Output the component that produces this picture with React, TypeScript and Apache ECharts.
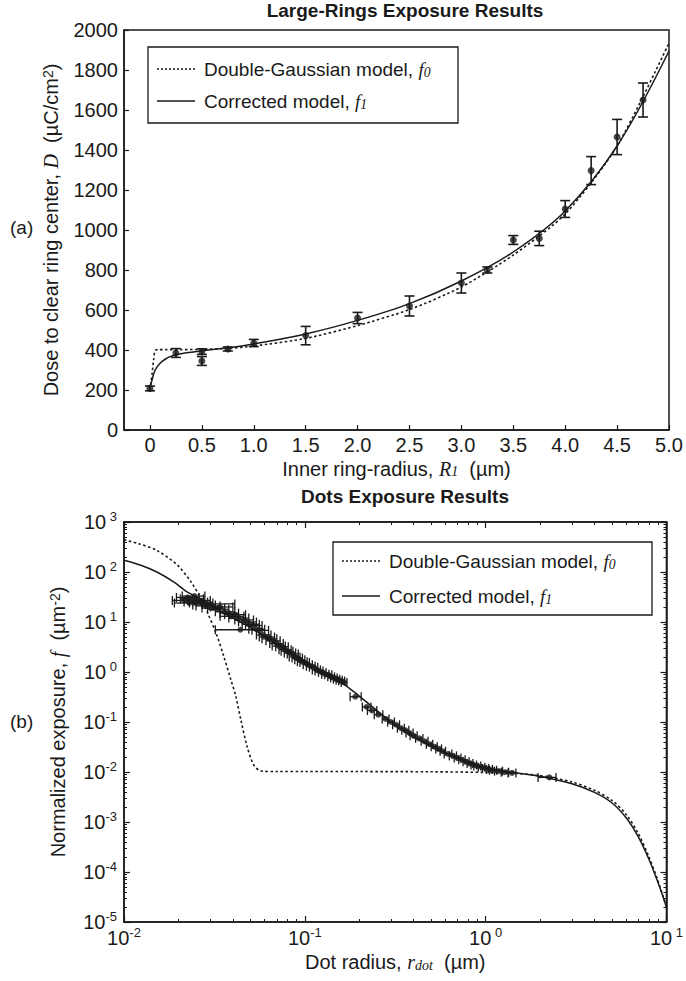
import React, { useEffect, useRef } from "react";
import * as echarts from "echarts";

// ---------- (a) Large-Rings exposure ----------
const ringRadius = [0, 0.25, 0.5, 0.5, 0.75, 1.0, 1.5, 2.0, 2.5, 3.0, 3.25, 3.5, 3.75, 4.0, 4.25, 4.5, 4.75];
const ringDose = [208, 385, 392, 345, 405, 435, 472, 560, 620, 735, 800, 950, 958, 1105, 1297, 1465, 1650];
const ringDoseErr = [12, 22, 14, 22, 10, 18, 46, 28, 50, 50, 15, 22, 36, 42, 70, 88, 85];

const f0RingX = [0, 0.02, 0.035, 0.05, 0.08, 0.15, 0.3, 0.5, 0.75, 1.0, 1.5, 2.0, 2.5, 3.0, 3.5, 4.0, 4.5, 5.0];
const f0RingY = [200, 280, 350, 398, 402, 402, 402, 403, 408, 420, 458, 522, 602, 715, 875, 1080, 1420, 1935];

const f1RingX = [0, 0.02, 0.05, 0.1, 0.15, 0.2, 0.25, 0.35, 0.5, 0.75, 1.0, 1.5, 2.0, 2.5, 3.0, 3.5, 4.0, 4.5, 5.0];
const f1RingY = [210, 250, 300, 335, 355, 368, 376, 386, 396, 411, 430, 480, 548, 632, 745, 890, 1095, 1420, 1895];

const ringXTicks = [0, 0.5, 1.0, 1.5, 2.0, 2.5, 3.0, 3.5, 4.0, 4.5, 5.0];
const ringXTickLabels = ["0", "0.5", "1.0", "1.5", "2.0", "2.5", "3.0", "3.5", "4.0", "4.5", "5.0"];

// ---------- (b) Dots exposure ----------
const dotRadius = [
  0.0215, 0.0225, 0.023, 0.024, 0.0245, 0.025, 0.026, 0.027, 0.028, 0.029, 0.030, 0.031, 0.033, 0.034,
  0.036, 0.038, 0.039, 0.041, 0.043, 0.044, 0.046, 0.048, 0.05, 0.052, 0.054, 0.057, 0.059, 0.062,
  0.064, 0.067, 0.07, 0.072, 0.075, 0.078, 0.08, 0.083, 0.086, 0.088, 0.091, 0.094, 0.097, 0.10,
  0.104, 0.108, 0.112, 0.116, 0.12, 0.125, 0.13, 0.135, 0.14, 0.145, 0.15, 0.155, 0.16, 0.165,
  0.19, 0.22, 0.235, 0.255,
  0.28, 0.3, 0.32, 0.34, 0.36, 0.38, 0.4, 0.43, 0.46, 0.49, 0.52, 0.55, 0.58, 0.62, 0.66, 0.7,
  0.74, 0.78, 0.82, 0.86, 0.9, 0.95, 1.0, 1.05, 1.1, 1.18, 1.28, 1.4,
  2.25,
];
const dotExposure = [
  27, 31, 24, 29, 33, 25, 27, 24, 22, 21, 23, 19, 18, 20,
  16, 15, 13, 14, 12, 7, 11, 10, 9, 8.5, 7.2, 6.8, 5.5, 5.0,
  4.6, 4.2, 3.7, 3.3, 3.2, 2.8, 2.6, 2.4, 2.3, 2.0, 1.9, 1.75, 1.6, 1.55,
  1.4, 1.3, 1.25, 1.1, 1.05, 0.98, 0.9, 0.88, 0.8, 0.76, 0.72, 0.68, 0.66, 0.62,
  0.32, 0.2, 0.17, 0.14,
  0.115, 0.1, 0.088, 0.075, 0.068, 0.06, 0.053, 0.047, 0.041, 0.036, 0.032, 0.029, 0.026, 0.023, 0.021, 0.019,
  0.0175, 0.016, 0.0148, 0.0138, 0.0132, 0.0125, 0.0118, 0.0113, 0.0108, 0.0104, 0.0099, 0.0096,
  0.0078,
];
const dotRadiusLow = [
  0.0185, 0.0195, 0.019, 0.0205, 0.021, 0.0215, 0.0225, 0.023, 0.024, 0.025, 0.027, 0.027, 0.029, 0.030,
  0.032, 0.034, 0.034, 0.036, 0.038, 0.032, 0.041, 0.043, 0.045, 0.047, 0.049, 0.051, 0.054, 0.056,
  0.058, 0.061, 0.064, 0.066, 0.069, 0.072, 0.074, 0.077, 0.080, 0.082, 0.085, 0.088, 0.091, 0.094,
  0.098, 0.102, 0.106, 0.110, 0.114, 0.119, 0.124, 0.129, 0.134, 0.139, 0.144, 0.149, 0.154, 0.159,
  0.178, 0.208, 0.222, 0.242,
  0.268, 0.287, 0.306, 0.325, 0.344, 0.363, 0.382, 0.41, 0.44, 0.47, 0.5, 0.53, 0.56, 0.59, 0.63, 0.67,
  0.71, 0.75, 0.79, 0.83, 0.86, 0.91, 0.96, 1.01, 1.05, 1.12, 1.22, 1.33,
  1.95,
];
const dotRadiusHigh = [
  0.025, 0.026, 0.027, 0.0275, 0.028, 0.029, 0.030, 0.031, 0.032, 0.034, 0.041, 0.036, 0.038, 0.040,
  0.041, 0.043, 0.046, 0.047, 0.049, 0.056, 0.052, 0.054, 0.056, 0.058, 0.060, 0.063, 0.065, 0.068,
  0.070, 0.073, 0.076, 0.078, 0.081, 0.084, 0.086, 0.089, 0.092, 0.094, 0.097, 0.100, 0.103, 0.106,
  0.110, 0.114, 0.118, 0.122, 0.126, 0.131, 0.136, 0.141, 0.146, 0.151, 0.156, 0.161, 0.166, 0.171,
  0.205, 0.232, 0.25, 0.27,
  0.292, 0.313, 0.334, 0.355, 0.376, 0.397, 0.418, 0.45, 0.48, 0.51, 0.54, 0.57, 0.6, 0.65, 0.69, 0.73,
  0.77, 0.81, 0.85, 0.89, 0.94, 0.99, 1.04, 1.09, 1.15, 1.24, 1.34, 1.47,
  2.45,
];

const f0DotX = [0.01, 0.012, 0.0152, 0.0197, 0.0235, 0.0267, 0.0288, 0.0323, 0.0357, 0.039, 0.0415, 0.0443, 0.048, 0.0524, 0.0573, 0.07, 0.1, 0.2, 0.5, 1.0, 1.5, 2.0, 3.0, 4.0, 5.0, 6.0, 7.0, 8.0, 9.0, 10.0];
const f0DotY = [440, 370, 270, 138, 63, 29, 16, 6.0, 2.0, 0.7, 0.33, 0.11, 0.032, 0.0135, 0.0105, 0.0102, 0.0102, 0.0102, 0.0101, 0.0098, 0.0093, 0.0085, 0.0063, 0.0043, 0.0027, 0.0014, 0.00058, 0.0002, 0.000065, 0.00002];

const f1DotX = [0.01, 0.0125, 0.0152, 0.0189, 0.0223, 0.026, 0.03, 0.04, 0.05, 0.07, 0.1, 0.15, 0.2, 0.3, 0.4, 0.6, 0.8, 1.0, 1.5, 2.0, 3.0, 4.0, 5.0, 6.0, 7.0, 8.0, 9.0, 10.0];
const f1DotY = [172, 135, 100, 63, 40, 30, 22, 12, 7.8, 3.6, 1.6, 0.72, 0.33, 0.1, 0.05, 0.024, 0.016, 0.012, 0.0096, 0.0082, 0.0058, 0.0039, 0.0024, 0.0012, 0.0005, 0.00018, 0.00006, 0.00002];

const legendNames = ["Double-Gaussian model, ", "Corrected model, "];

const INK = "#1a1a1a";
const SANS = "Liberation Sans, Arial, Helvetica, sans-serif";
const SERIF = "Liberation Serif, Times New Roman, serif";
const TICK_FS = 20;
const NAME_FS = 20;

function pow10Label(v: number) {
  const e = Math.round(Math.log10(v));
  return `{b|10}{s|${e >= 0 ? " " + e : e}}`;
}

const powRich = {
  b: { fontSize: TICK_FS, fontFamily: SANS, color: INK, lineHeight: 24 },
  s: { fontSize: 13, fontFamily: SANS, color: INK, lineHeight: 13, verticalAlign: "top", padding: [0, 0, 7, 0] },
};

function legendGraphic(x: number, y: number, w: number, h: number, fs: number, lineLen: number, rowGap: number) {
  const row1 = y + h / 2 - rowGap / 2;
  const row2 = y + h / 2 + rowGap / 2;
  const lx = x + 9;
  const tx = lx + lineLen + 9;
  const rich = {
    t: { fontSize: fs, fontFamily: SANS, fill: INK },
    i: { fontSize: fs, fontFamily: SERIF, fontStyle: "italic", fill: INK },
    sub: { fontSize: fs * 0.72, fontFamily: SERIF, fontStyle: "italic", fill: INK, verticalAlign: "bottom", padding: [7, 0, 0, 0] },
  };
  return [
    { type: "rect", shape: { x, y, width: w, height: h }, style: { fill: "#fff", stroke: INK, lineWidth: 1.3 }, z: 100 },
    { type: "line", shape: { x1: lx, y1: row1, x2: lx + lineLen, y2: row1 }, style: { stroke: INK, lineWidth: 1.4, lineDash: [2, 2] }, z: 101 },
    { type: "line", shape: { x1: lx, y1: row2, x2: lx + lineLen, y2: row2 }, style: { stroke: INK, lineWidth: 1.5 }, z: 101 },
    { type: "text", x: tx, y: row1, style: { text: `{t|${legendNames[0]}}{i|f}{sub|0}`, rich, verticalAlign: "middle", align: "left" }, z: 101 },
    { type: "text", x: tx, y: row2, style: { text: `{t|${legendNames[1]}}{i|f}{sub|1}`, rich, verticalAlign: "middle", align: "left" }, z: 101 },
  ];
}

const axisLineStyle = { show: true, onZero: false, lineStyle: { color: INK, width: 1.5 } };

export default function App() {
  const ref = useRef<HTMLDivElement>(null);
  useEffect(() => {
    if (!ref.current) return;
    const chart = echarts.init(ref.current, undefined, { renderer: "svg" });

    const ringErrData = ringRadius.map((x, i) => [x, ringDose[i], ringDose[i] - ringDoseErr[i], ringDose[i] + ringDoseErr[i]]);
    const dotErrData = dotRadius.map((x, i) => [x, dotExposure[i], dotRadiusLow[i], dotRadiusHigh[i]]);

    const nameRich = {
      t: { fontSize: NAME_FS, fontFamily: SANS, color: INK },
      i: { fontSize: NAME_FS, fontFamily: SERIF, fontStyle: "italic", color: INK },
      sub: { fontSize: 14, fontFamily: SERIF, fontStyle: "italic", color: INK, verticalAlign: "bottom", lineHeight: 14, padding: [9, 0, 0, 0] },
      sup: { fontSize: 14, fontFamily: SANS, color: INK, verticalAlign: "top", lineHeight: 14, padding: [0, 0, 8, 0] },
    };

    const option: any = {
      animation: false,
      backgroundColor: "#fff",
      title: [
        { text: "Large-Rings Exposure Results", left: 400, top: -4, textAlign: "center", textStyle: { fontSize: 19, fontWeight: "bold", fontFamily: SANS, color: INK } },
        { text: "Dots Exposure Results", left: 400, top: 482, textAlign: "center", textStyle: { fontSize: 19, fontWeight: "bold", fontFamily: SANS, color: INK } },
      ],
      grid: [
        { left: 124, top: 30, width: 545, height: 400, show: true, borderColor: INK, borderWidth: 1.5, backgroundColor: "transparent" },
        { left: 124, top: 522, width: 545, height: 400, show: true, borderColor: INK, borderWidth: 1.5, backgroundColor: "transparent" },
      ],
      xAxis: [
        {
          type: "value", gridIndex: 0, min: -0.25, max: 5,
          axisLine: axisLineStyle,
          axisTick: { show: true, inside: true, length: 5, customValues: ringXTicks, lineStyle: { color: INK, width: 1.2 } },
          axisLabel: {
            customValues: ringXTicks, margin: 5, fontSize: TICK_FS, fontFamily: SANS, color: INK,
            formatter: (v: number) => { const k = ringXTicks.findIndex((t) => Math.abs(t - v) < 1e-6); return k >= 0 ? ringXTickLabels[k] : ""; },
          },
          splitLine: { show: false },
          name: "Inner ring-radius, {i|R}{sub|1}  (µm)",
          nameLocation: "middle", nameGap: 28,
          nameTextStyle: { fontSize: NAME_FS, fontFamily: SANS, color: INK, rich: nameRich },
        },
        {
          type: "log", logBase: 10, gridIndex: 1, min: 0.01, max: 10, position: "bottom",
          axisLine: axisLineStyle,
          axisTick: { show: true, inside: true, length: 6, lineStyle: { color: INK, width: 1.2 } },
          minorTick: { show: true, splitNumber: 9, length: 3, lineStyle: { color: INK, width: 1 } },
          axisLabel: { margin: 4, formatter: pow10Label, rich: powRich },
          splitLine: { show: false }, minorSplitLine: { show: false },
          name: "Dot radius, {i|r}{sub|dot}  (µm)",
          nameLocation: "middle", nameGap: 30,
          nameTextStyle: { fontSize: NAME_FS, fontFamily: SANS, color: INK, rich: nameRich },
        },
        {
          type: "log", logBase: 10, gridIndex: 1, min: 0.01, max: 10, position: "top",
          axisLine: axisLineStyle,
          axisTick: { show: true, inside: true, length: 6, lineStyle: { color: INK, width: 1.2 } },
          minorTick: { show: true, splitNumber: 9, length: 3, lineStyle: { color: INK, width: 1 } },
          axisLabel: { show: false },
          splitLine: { show: false },
        },
      ],
      yAxis: [
        {
          type: "value", gridIndex: 0, min: 0, max: 2000, interval: 200,
          axisLine: axisLineStyle,
          axisTick: { show: true, inside: true, length: 5, lineStyle: { color: INK, width: 1.2 } },
          axisLabel: { margin: 6, fontSize: TICK_FS, fontFamily: SANS, color: INK, formatter: (v: number) => String(v) },
          splitLine: { show: false },
          name: "Dose to clear ring center, {i|D}  (µC/cm{sup|2})",
          nameLocation: "middle", nameGap: 62,
          nameTextStyle: { fontSize: NAME_FS, fontFamily: SANS, color: INK, rich: nameRich },
        },
        {
          type: "log", logBase: 10, gridIndex: 1, min: 0.00001, max: 1000,
          axisLine: axisLineStyle,
          axisTick: { show: true, inside: true, length: 6, lineStyle: { color: INK, width: 1.2 } },
          minorTick: { show: true, splitNumber: 9, length: 3, lineStyle: { color: INK, width: 1 } },
          axisLabel: { margin: 7, formatter: pow10Label, rich: powRich },
          splitLine: { show: false }, minorSplitLine: { show: false },
          name: "Normalized exposure, {i|f}  (µm{sup|-2})",
          nameLocation: "middle", nameGap: 56,
          nameTextStyle: { fontSize: NAME_FS, fontFamily: SANS, color: INK, rich: nameRich },
        },
        {
          type: "log", logBase: 10, gridIndex: 1, min: 0.00001, max: 1000, position: "right",
          axisLine: axisLineStyle,
          axisTick: { show: true, inside: true, length: 6, lineStyle: { color: INK, width: 1.2 } },
          minorTick: { show: true, splitNumber: 9, length: 3, lineStyle: { color: INK, width: 1 } },
          axisLabel: { show: false },
          splitLine: { show: false },
        },
      ],
      graphic: [
        { type: "text", left: 10, top: 218, style: { text: "(a)", fontSize: 19, fontFamily: SANS, fill: INK } },
        { type: "text", left: 10, top: 712, style: { text: "(b)", fontSize: 19, fontFamily: SANS, fill: INK } },
        ...legendGraphic(148, 47, 310, 76, 19, 38, 32),
        ...legendGraphic(333, 542, 319, 73, 19, 38, 35),
      ],
      series: [
        {
          name: "f0 rings", type: "line", xAxisIndex: 0, yAxisIndex: 0, showSymbol: false, symbol: "none", smooth: 0.25,
          data: f0RingX.map((x, i) => [x, f0RingY[i]]),
          lineStyle: { color: INK, width: 1.6, type: [2.5, 2.5] }, z: 3,
        },
        {
          name: "f1 rings", type: "line", xAxisIndex: 0, yAxisIndex: 0, showSymbol: false, symbol: "none", smooth: 0.35,
          data: f1RingX.map((x, i) => [x, f1RingY[i]]),
          lineStyle: { color: INK, width: 1.5 }, z: 3,
        },
        {
          name: "ring errors", type: "custom", xAxisIndex: 0, yAxisIndex: 0,
          encode: { x: 0, y: [1, 2, 3] },
          data: ringErrData,
          renderItem: (params: any, api: any) => {
            const x = api.value(0);
            const lo = api.coord([x, api.value(2)]);
            const hi = api.coord([x, api.value(3)]);
            const st = { stroke: INK, lineWidth: 1.6 };
            return {
              type: "group",
              children: [
                { type: "line", shape: { x1: lo[0], y1: lo[1], x2: hi[0], y2: hi[1] }, style: st },
                { type: "line", shape: { x1: lo[0] - 5, y1: lo[1], x2: lo[0] + 5, y2: lo[1] }, style: st },
                { type: "line", shape: { x1: hi[0] - 5, y1: hi[1], x2: hi[0] + 5, y2: hi[1] }, style: st },
              ],
            };
          },
          z: 4,
        },
        {
          name: "ring data", type: "scatter", xAxisIndex: 0, yAxisIndex: 0, symbol: "circle", symbolSize: 7,
          data: ringRadius.map((x, i) => [x, ringDose[i]]),
          itemStyle: { color: INK }, z: 5,
        },
        {
          name: "f0 dots", type: "line", xAxisIndex: 1, yAxisIndex: 1, showSymbol: false, symbol: "none", smooth: 0.3,
          data: f0DotX.map((x, i) => [x, f0DotY[i]]),
          lineStyle: { color: INK, width: 1.6, type: [2.5, 2.5] }, z: 3,
        },
        {
          name: "f1 dots", type: "line", xAxisIndex: 1, yAxisIndex: 1, showSymbol: false, symbol: "none", smooth: 0.3,
          data: f1DotX.map((x, i) => [x, f1DotY[i]]),
          lineStyle: { color: INK, width: 1.5 }, z: 3,
        },
        {
          name: "dot errors", type: "custom", xAxisIndex: 1, yAxisIndex: 1,
          encode: { x: [0, 2, 3], y: 1 },
          data: dotErrData,
          renderItem: (params: any, api: any) => {
            const y = api.value(1);
            const lo = api.coord([api.value(2), y]);
            const hi = api.coord([api.value(3), y]);
            const st = { stroke: INK, lineWidth: 1.3 };
            return {
              type: "group",
              children: [
                { type: "line", shape: { x1: lo[0], y1: lo[1], x2: hi[0], y2: hi[1] }, style: st },
                { type: "line", shape: { x1: lo[0], y1: lo[1] - 4.5, x2: lo[0], y2: lo[1] + 4.5 }, style: st },
                { type: "line", shape: { x1: hi[0], y1: hi[1] - 4.5, x2: hi[0], y2: hi[1] + 4.5 }, style: st },
              ],
            };
          },
          z: 4,
        },
        {
          name: "dot data", type: "scatter", xAxisIndex: 1, yAxisIndex: 1, symbol: "circle", symbolSize: 6,
          data: dotRadius.map((x, i) => [x, dotExposure[i]]),
          itemStyle: { color: INK }, z: 5,
        },
      ],
    };
    chart.setOption(option);
    return () => chart.dispose();
  }, []);
  return <div ref={ref} style={{ position: "absolute", left: 0, top: 0, width: 686, height: 981, background: "#fff" }} />;
}
